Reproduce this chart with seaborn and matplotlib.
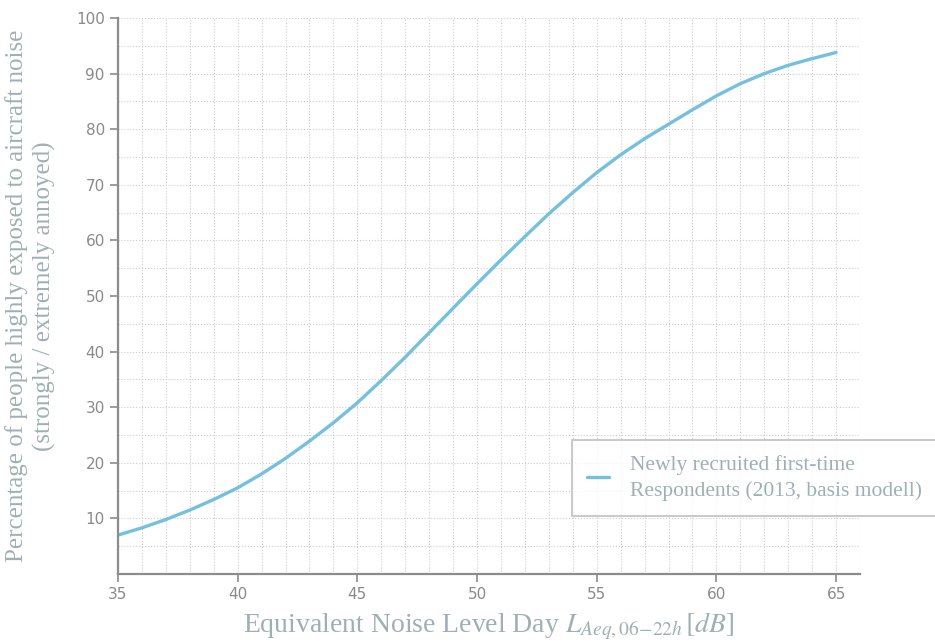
import pandas as pd
import seaborn as sns
import matplotlib.pyplot as plt
from matplotlib.ticker import MultipleLocator

sns.set_theme(style="white")
plt.rcParams["mathtext.fontset"] = "stix"

# noise level (dB) and share highly annoyed (%)
noise_db = list(range(35, 66))
annoyed_pct = [7.0, 8.3, 9.8, 11.5, 13.4, 15.5, 18.0, 20.8, 23.9, 27.2,
               30.8, 34.8, 39.0, 43.4, 47.8, 52.2, 56.5, 60.7, 64.8, 68.6,
               72.2, 75.4, 78.3, 80.9, 83.5, 86.0, 88.2, 90.0, 91.5, 92.7, 93.8]
y_ticks = [10, 20, 30, 40, 50, 60, 70, 80, 90, 100]
series_label = "Newly recruited first-time\nRespondents (2013, basis modell)"

df = pd.DataFrame({"dB": noise_db, "pct": annoyed_pct})

label_col = "#9fb0b5"
tick_col = "#8a8a8a"

fig = plt.figure(figsize=(9.35, 6.44), dpi=100)
ax = fig.add_axes([0.1262, 0.1087, 0.7936, 0.8633])

sns.lineplot(data=df, x="dB", y="pct", ax=ax, color="#74c0de", linewidth=2.4,
             label=series_label)

ax.set_xlim(35, 66)
ax.set_ylim(0, 100)
ax.xaxis.set_major_locator(MultipleLocator(5))
ax.xaxis.set_minor_locator(MultipleLocator(1))
ax.set_yticks(y_ticks)
ax.yaxis.set_minor_locator(MultipleLocator(5))
ax.grid(which="both", color="#cccccc", linestyle=":", linewidth=0.8)
ax.set_axisbelow(True)

for side in ["top", "right"]:
    ax.spines[side].set_visible(False)
for side in ["left", "bottom"]:
    ax.spines[side].set_color("#8c8c8c")
    ax.spines[side].set_linewidth(1.6)

ax.tick_params(which="major", direction="out", length=6, width=1.2,
               color="#8c8c8c", labelcolor=tick_col, labelsize=11,
               left=True, bottom=True)
ax.tick_params(which="minor", length=0)

ax.set_xlabel(r"Equivalent Noise Level Day $L_{Aeq,06\!-\!22h}\,[dB]$",
              fontsize=20, color=label_col, family="Liberation Serif", labelpad=6)
ax.set_ylabel("Percentage of people highly exposed to aircraft noise\n(strongly / extremely annoyed)",
              fontsize=18, color=label_col, family="Liberation Serif",
              linespacing=1.3, labelpad=14)

leg = ax.legend(loc="upper left", bbox_to_anchor=(572 / 935, 1 - 440 / 644),
                bbox_transform=fig.transFigure, frameon=True, fancybox=False,
                handlelength=1.0, handletextpad=1.0, borderpad=0.7,
                borderaxespad=0,
                prop={"family": "Liberation Serif", "size": 15.5})
leg.get_frame().set_edgecolor("#b0b0b0")
leg.get_frame().set_linewidth(1.2)
for t in leg.get_texts():
    t.set_color(label_col)
    t.set_linespacing(1.4)

fig.savefig("out.png", dpi=100)
